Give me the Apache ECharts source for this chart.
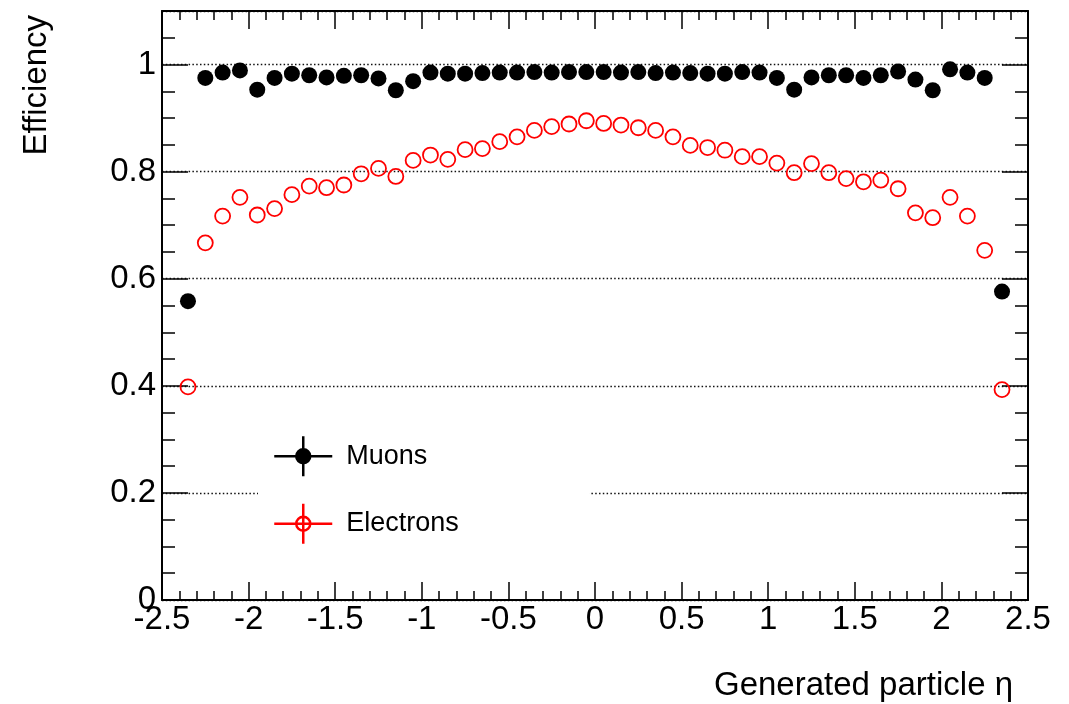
<!DOCTYPE html>
<html>
<head>
<meta charset="utf-8">
<title>Efficiency vs eta</title>
<script src="https://cdn.jsdelivr.net/npm/echarts@6/dist/echarts.min.js"></script>
<style>
  html, body { margin: 0; padding: 0; background: #fff; }
  #chart { width: 1069px; height: 704px; }
</style>
</head>
<body>
<div id="chart"></div>
<script>
// Bin centres in generated pseudorapidity (bin width 0.1)
const etaBins = [
  -2.35, -2.25, -2.15, -2.05, -1.95, -1.85, -1.75, -1.65, -1.55, -1.45, -1.35, -1.25,
  -1.15, -1.05, -0.95, -0.85, -0.75, -0.65, -0.55, -0.45, -0.35, -0.25, -0.15, -0.05,
   0.05,  0.15,  0.25,  0.35,  0.45,  0.55,  0.65,  0.75,  0.85,  0.95,  1.05,  1.15,
   1.25,  1.35,  1.45,  1.55,  1.65,  1.75,  1.85,  1.95,  2.05,  2.15,  2.25,  2.35
];

// Muon reconstruction efficiency per bin
const muonEff = [
  0.558, 0.975, 0.985, 0.989, 0.953, 0.975, 0.983, 0.980, 0.976, 0.979, 0.980, 0.974,
  0.952, 0.969, 0.985, 0.983, 0.983, 0.984, 0.985, 0.985, 0.986, 0.985, 0.986, 0.986,
  0.986, 0.985, 0.986, 0.984, 0.985, 0.984, 0.983, 0.983, 0.986, 0.985, 0.975, 0.953,
  0.976, 0.980, 0.980, 0.975, 0.980, 0.987, 0.972, 0.952, 0.991, 0.985, 0.975, 0.576
];

// Electron reconstruction efficiency per bin
const electronEff = [
  0.398, 0.667, 0.717, 0.752, 0.719, 0.731, 0.757, 0.773, 0.770, 0.775, 0.796, 0.806,
  0.791, 0.821, 0.831, 0.823, 0.841, 0.843, 0.856, 0.865, 0.877, 0.884, 0.889, 0.895,
  0.890, 0.887, 0.882, 0.877, 0.865, 0.849, 0.845, 0.840, 0.828, 0.828, 0.816, 0.798,
  0.815, 0.798, 0.787, 0.781, 0.784, 0.768, 0.723, 0.714, 0.752, 0.717, 0.653, 0.393
];

const seriesNames = ['Muons', 'Electrons'];
const xTitle = 'Generated particle \u03b7';
const yTitle = 'Efficiency';

const FONT = '"Liberation Sans", Arial, Helvetica, sans-serif';

const pairs = (ys) => etaBins.map((x, i) => [x, ys[i]]);

// Legend marker: horizontal + vertical error bar with a circle in the middle
const markerIcon = 'path://M0 20 L58 20 M29 0 L29 40 M36 20 A7 7 0 1 1 22 20 A7 7 0 1 1 36 20 Z';

const xBase = {
  type: 'value', min: -2.5, max: 2.5, interval: 0.5,
  axisLine: { show: true, onZero: false, lineStyle: { color: '#000', width: 2 } },
  axisTick: { show: true, inside: true, length: 18, lineStyle: { color: '#000', width: 1.5 } },
  minorTick: { show: true, splitNumber: 5, length: 9, lineStyle: { color: '#000', width: 1.5 } },
  splitLine: { show: false }
};

const yMajor = {
  type: 'value', min: 0, max: 1.1, interval: 0.2,
  axisLine: { show: true, onZero: false, lineStyle: { color: '#000', width: 2 } },
  axisTick: { show: true, inside: true, length: 26, lineStyle: { color: '#000', width: 1.5 } },
  splitLine: { show: false }
};

// Second scale on each side, only for the short 0.05 ticks
const yMinor = {
  type: 'value', min: 0, max: 1.1, interval: 0.05,
  axisLine: { show: false, onZero: false },
  axisLabel: { show: false },
  axisTick: { show: true, inside: true, length: 13, lineStyle: { color: '#000', width: 1.5 } },
  splitLine: { show: false }
};

const option = {
  backgroundColor: '#fff',
  animation: false,
  grid: { left: 162, right: 41, top: 11, bottom: 104, containLabel: false },
  xAxis: [
    Object.assign({}, xBase, {
      position: 'bottom',
      name: xTitle,
      nameLocation: 'end',
      nameGap: -15,
      nameTextStyle: {
        fontFamily: FONT, fontSize: 33, color: '#000',
        align: 'right', verticalAlign: 'top', padding: [69, 0, 0, 0]
      },
      axisLabel: { show: true, fontFamily: FONT, fontSize: 33, color: '#000', margin: 3 }
    }),
    Object.assign({}, xBase, {
      position: 'top',
      axisLabel: { show: false }
    })
  ],
  yAxis: [
    Object.assign({}, yMajor, {
      position: 'left',
      name: yTitle,
      nameLocation: 'end',
      nameRotate: 90,
      nameGap: -4,
      nameTextStyle: {
        fontFamily: FONT, fontSize: 33, color: '#000',
        align: 'right', verticalAlign: 'bottom', padding: [0, 0, 109, 0]
      },
      axisLabel: {
        show: true, fontFamily: FONT, fontSize: 33, color: '#000', margin: 6,
        showMaxLabel: false,
        formatter: (v) => (Math.abs(v * 5 - Math.round(v * 5)) < 1e-6 ? String(+v.toFixed(1)) : '')
      },
      splitLine: { show: true, lineStyle: { color: '#111', width: 1.3, type: [1.5, 2.3] } }
    }),
    Object.assign({}, yMinor, { position: 'left' }),
    Object.assign({}, yMajor, { position: 'right', axisLabel: { show: false } }),
    Object.assign({}, yMinor, { position: 'right' })
  ],
  legend: {
    orient: 'vertical',
    left: 258,
    top: 420,
    padding: [15, 131, 15, 15],
    itemGap: 25,
    itemWidth: 58,
    itemHeight: 40,
    backgroundColor: '#fff',
    borderWidth: 0,
    selectedMode: false,
    textStyle: { fontFamily: FONT, fontSize: 27, color: '#000', padding: [0, 0, 0, 9] },
    data: [
      { name: seriesNames[0], icon: markerIcon,
        itemStyle: { color: '#000', borderColor: '#000', borderWidth: 2.5 } },
      { name: seriesNames[1], icon: markerIcon,
        itemStyle: { color: 'rgba(0,0,0,0)', borderColor: '#ff0000', borderWidth: 2.5 } }
    ]
  },
  series: [
    {
      name: seriesNames[0],
      type: 'scatter',
      xAxisIndex: 0, yAxisIndex: 0,
      symbol: 'circle',
      symbolSize: 16,
      itemStyle: { color: '#000', opacity: 1 },
      data: pairs(muonEff),
      z: 3
    },
    {
      name: seriesNames[1],
      type: 'scatter',
      xAxisIndex: 0, yAxisIndex: 0,
      symbol: 'circle',
      symbolSize: 15,
      itemStyle: { color: 'rgba(0,0,0,0)', borderColor: '#ff0000', borderWidth: 1.8, opacity: 1 },
      data: pairs(electronEff),
      z: 3
    }
  ]
};

const chart = echarts.init(document.getElementById('chart'), null, { renderer: 'canvas' });
chart.setOption(option);
</script>
</body>
</html>
